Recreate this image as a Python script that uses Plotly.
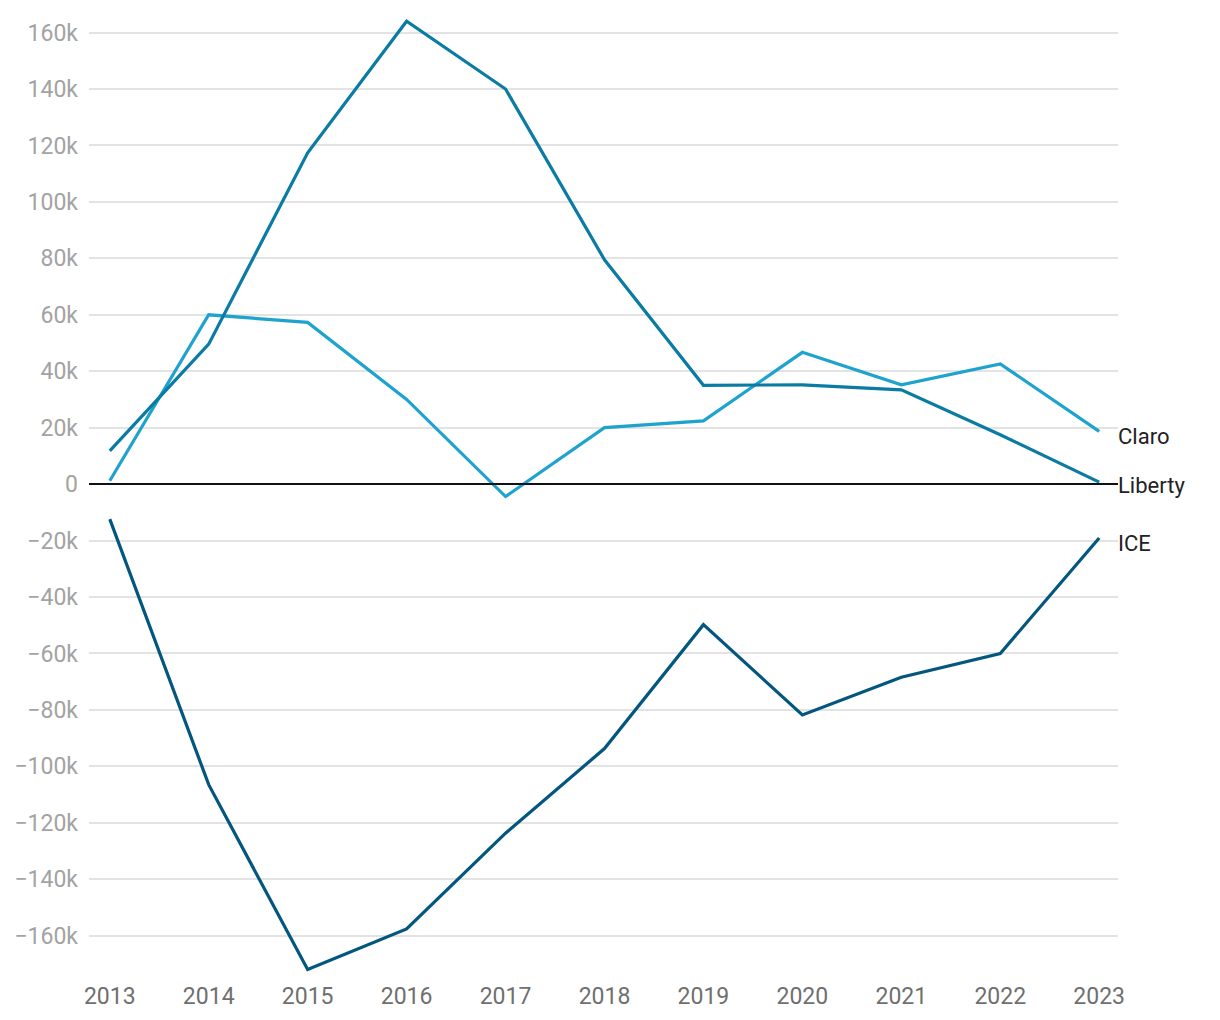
import plotly.graph_objects as go

years = [2013, 2014, 2015, 2016, 2017, 2018, 2019, 2020, 2021, 2022, 2023]
claro = [1200, 60000, 57300, 30000, -4400, 20000, 22400, 46700, 35200, 42600, 18700]
liberty = [11800, 49600, 117400, 164000, 140000, 79500, 35000, 35200, 33400, 17500, 700]
ice = [-12400, -106500, -172000, -157600, -123700, -93700, -49800, -81800, -68400, -60000, -19100]

series_names = ["Claro", "Liberty", "ICE"]
series_values = [claro, liberty, ice]
series_colors = ["#1ea3cf", "#0a7ba3", "#03567d"]
label_shift = [-5, -3, -5]

fig = go.Figure()
for name, vals, col in zip(series_names, series_values, series_colors):
    fig.add_trace(go.Scatter(x=years, y=vals, mode="lines", name=name,
                             line=dict(color=col, width=3.2), cliponaxis=False))

for name, vals, sh in zip(series_names, series_values, label_shift):
    fig.add_annotation(x=1, xref="paper", y=vals[-1], yref="y", text=name,
                       xanchor="left", yanchor="middle", showarrow=False,
                       xshift=-2, yshift=sh,
                       font=dict(size=22, color="#222222", family="Roboto"))

fig.add_shape(type="line", xref="paper", x0=0, x1=1, yref="y", y0=0, y1=0,
              line=dict(color="#111111", width=2), layer="above")

fig.update_layout(
    width=1220, height=1020,
    margin=dict(l=81, r=110, t=2, b=50),
    plot_bgcolor="white", paper_bgcolor="white",
    showlegend=False,
    font=dict(family="Roboto"),
    xaxis=dict(range=[2012.79, 2023.19], tickmode="array", tickvals=years,
               ticktext=[str(y) for y in years], showgrid=False, zeroline=False,
               showline=False, tickfont=dict(size=23, color="#6f6f6f"),
               ticklabelstandoff=2),
    yaxis=dict(range=[-175000, 168000], tickmode="linear", tick0=0, dtick=20000,
               tickformat="~s", showgrid=True, gridcolor="#e3e3e3", gridwidth=1.5,
               zeroline=False, showline=False,
               tickfont=dict(size=23, color="#a3a3a3"), ticklabelstandoff=10),
)

fig.write_html("out.html")
